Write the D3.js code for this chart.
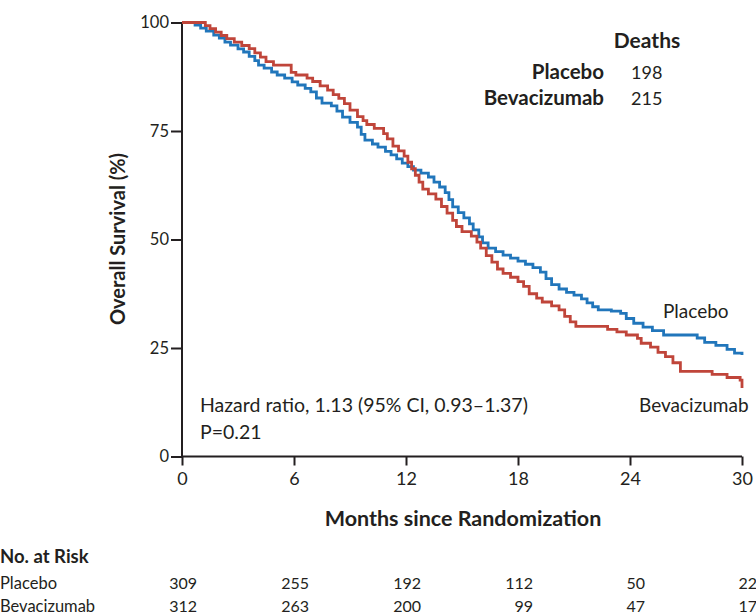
<!DOCTYPE html>
<html>
<head>
<meta charset="utf-8">
<script src="https://cdn.jsdelivr.net/npm/d3@7"></script>
<style>
  html, body { margin: 0; padding: 0; background: #fff; }
  svg { display: block; font-family: Lato, "Open Sans", sans-serif; }
</style>
</head>
<body>
<svg id="chart" width="756" height="616"></svg>
<script>
// ---------- DATA ----------
const placeboMonths = [0, 0.7, 1.0, 1.3, 1.7, 2.0, 2.3, 2.6, 3.0, 3.3, 3.6, 3.9, 4.1, 4.4, 4.8, 5.1, 5.5, 5.9, 6.2, 6.6, 6.9, 7.2, 7.5, 8.0, 8.3, 8.6, 9.0, 9.4, 9.6, 9.8, 10.2, 10.5, 10.9, 11.2, 11.5, 11.8, 12.1, 12.4, 12.8, 13.2, 13.5, 13.8, 14.1, 14.3, 14.5, 14.8, 15.1, 15.4, 15.6, 15.9, 16.1, 16.4, 16.8, 17.2, 17.6, 18.0, 18.4, 18.8, 19.2, 19.5, 19.8, 20.2, 20.6, 21.0, 21.4, 21.7, 22.0, 22.3, 23.0, 23.5, 23.8, 24.2, 24.7, 25.2, 25.8, 27.6, 28.0, 28.6, 29.2, 29.6, 30.0];
const placeboSurvival = [100, 99.4, 98.7, 98.0, 97.1, 96.4, 95.5, 94.8, 93.9, 93.2, 92.2, 91.2, 90.2, 89.5, 88.6, 87.9, 87.2, 86.3, 85.6, 84.8, 84.0, 82.6, 81.4, 80.8, 79.6, 78.2, 77.0, 75.9, 74.2, 72.9, 72.0, 71.3, 70.3, 69.5, 68.6, 67.6, 66.8, 66.0, 65.3, 64.4, 63.2, 62.1, 60.8, 59.2, 57.5, 56.2, 55.0, 53.6, 52.2, 50.6, 49.2, 48.0, 47.2, 46.4, 45.7, 45.0, 44.3, 43.5, 42.5, 41.0, 39.6, 38.6, 37.8, 37.2, 36.3, 35.4, 34.5, 33.8, 33.5, 33.0, 31.8, 30.7, 29.8, 29.0, 28.0, 27.3, 26.3, 25.6, 24.7, 23.8, 23.4];

const bevMonths = [0, 1.25, 1.5, 1.8, 2.1, 2.4, 2.8, 3.2, 3.6, 3.9, 4.2, 4.5, 4.9, 5.85, 6.1, 6.7, 7.0, 7.4, 7.8, 8.1, 8.4, 8.7, 9.0, 9.4, 9.7, 9.9, 10.3, 10.8, 11.0, 11.3, 11.6, 11.9, 12.1, 12.3, 12.5, 12.7, 12.9, 13.2, 13.6, 13.9, 14.2, 14.5, 14.7, 15.0, 15.5, 15.8, 16.0, 16.3, 16.6, 16.9, 17.2, 17.6, 18.0, 18.3, 18.6, 19.0, 19.3, 19.8, 20.2, 20.5, 20.8, 21.1, 22.8, 23.3, 23.8, 24.4, 24.6, 25.1, 25.5, 25.9, 26.3, 26.7, 28.4, 29.2, 29.9, 30.0];
const bevSurvival = [100, 99.3, 98.6, 97.8, 97.0, 96.3, 95.5, 94.7, 94.0, 93.0, 92.0, 91.0, 90.2, 88.5, 87.9, 87.2, 86.4, 85.4, 84.4, 83.4, 82.5, 81.3, 79.8, 78.3, 77.4, 76.5, 75.6, 74.4, 73.2, 71.5, 70.4, 69.2, 67.8, 66.3, 64.8, 63.2, 61.6, 60.5, 59.3, 57.6, 56.1, 54.4, 53.0, 51.8, 50.8, 49.4, 48.0, 46.3, 44.8, 43.2, 42.2, 41.3, 40.3, 39.2, 37.5, 36.5, 35.6, 34.7, 33.8, 32.3, 31.0, 30.0, 29.3, 28.7, 28.0, 27.2, 26.1, 25.2, 24.0, 23.0, 21.6, 19.6, 18.9, 18.2, 17.6, 15.8];

const xTicks = [0, 6, 12, 18, 24, 30];
const yTicks = [0, 25, 50, 75, 100];
const riskPlacebo = [309, 255, 192, 112, 50, 22];
const riskBev = [312, 263, 200, 99, 47, 17];
const deathsPlacebo = 198;
const deathsBev = 215;

// ---------- LAYOUT ----------
const colorPlacebo = "#2176bb";
const colorBev = "#c0453a";
const ink = "#231f20";

const svg = d3.select("#chart");
const x = d3.scaleLinear().domain([0, 30]).range([182, 742]);
const y = d3.scaleLinear().domain([0, 100]).range([456.5, 22.5]);

// axes
const yAxis = d3.axisLeft(y).tickValues(yTicks).tickSize(11).tickPadding(2);
const gy = svg.append("g").attr("transform", "translate(182,0)").call(yAxis);
const xAxis = d3.axisBottom(x).tickValues(xTicks).tickSize(9).tickPadding(7);
const gx = svg.append("g").attr("transform", "translate(0,456.5)").call(xAxis);

[gx, gy].forEach(g => {
  g.select(".domain").attr("stroke", ink).attr("stroke-width", 2);
  g.selectAll(".tick line").attr("stroke", ink).attr("stroke-width", 2);
  g.selectAll(".tick text").attr("fill", ink).style("font-family", "Lato, sans-serif");
});
gy.selectAll(".tick text").style("font-size", "16.5px");
gx.selectAll(".tick text").style("font-size", "18px");
gy.select(".domain").attr("d", `M0,${y(0)}V${y(100)}`);
gx.select(".domain").attr("d", `M${x(0)},0H${x(30)}`);

// curves
const line = d3.line().x(d => x(d[0])).y(d => y(d[1])).curve(d3.curveStepAfter);
const placeboPts = placeboMonths.map((m, i) => [m, placeboSurvival[i]]);
const bevPts = bevMonths.map((m, i) => [m, bevSurvival[i]]);

svg.append("path").datum(placeboPts).attr("d", line)
  .attr("fill", "none").attr("stroke", colorPlacebo).attr("stroke-width", 2.8);
svg.append("path").datum(bevPts).attr("d", line)
  .attr("fill", "none").attr("stroke", colorBev).attr("stroke-width", 2.8);

// axis titles
svg.append("text").attr("transform", "translate(125,239) rotate(-90)")
  .attr("text-anchor", "middle").attr("fill", ink)
  .style("font-size", "20px").style("font-weight", "bold")
  .text("Overall Survival (%)");

svg.append("text").attr("x", 463).attr("y", 526)
  .attr("text-anchor", "middle").attr("fill", ink)
  .style("font-size", "21.5px").style("font-weight", "bold")
  .text("Months since Randomization");

// legend (deaths)
svg.append("text").attr("x", 647).attr("y", 48).attr("text-anchor", "middle")
  .attr("fill", ink).style("font-size", "21px").style("font-weight", "bold").text("Deaths");
svg.append("text").attr("x", 604).attr("y", 79).attr("text-anchor", "end")
  .attr("fill", ink).style("font-size", "20.5px").style("font-weight", "bold").text("Placebo");
svg.append("text").attr("x", 604).attr("y", 105).attr("text-anchor", "end")
  .attr("fill", ink).style("font-size", "20.5px").style("font-weight", "bold").text("Bevacizumab");
svg.append("text").attr("x", 631).attr("y", 79).attr("fill", ink)
  .style("font-size", "18px").text(deathsPlacebo);
svg.append("text").attr("x", 631).attr("y", 105).attr("fill", ink)
  .style("font-size", "18px").text(deathsBev);

// curve labels
svg.append("text").attr("x", 663).attr("y", 318).attr("fill", ink)
  .style("font-size", "19px").text("Placebo");
svg.append("text").attr("x", 639).attr("y", 412).attr("fill", ink)
  .style("font-size", "19px").text("Bevacizumab");

// hazard ratio annotation
svg.append("text").attr("x", 200).attr("y", 412).attr("fill", ink)
  .style("font-size", "19.5px").text("Hazard ratio, 1.13 (95% CI, 0.93\u20131.37)");
svg.append("text").attr("x", 200).attr("y", 439).attr("fill", ink)
  .style("font-size", "19.5px").text("P=0.21");

// number at risk
svg.append("text").attr("x", 0).attr("y", 563).attr("fill", ink)
  .style("font-size", "18.5px").style("font-weight", "bold").text("No. at Risk");
svg.append("text").attr("x", 0).attr("y", 589).attr("fill", ink)
  .style("font-size", "16.5px").text("Placebo");
svg.append("text").attr("x", 0).attr("y", 612).attr("fill", ink)
  .style("font-size", "16.5px").text("Bevacizumab");

svg.append("g").selectAll("text").data(riskPlacebo).join("text")
  .attr("x", (d, i) => x(xTicks[i]) + 15).attr("y", 589)
  .attr("text-anchor", "end").attr("fill", ink).style("font-size", "16px")
  .text(d => d);
svg.append("g").selectAll("text").data(riskBev).join("text")
  .attr("x", (d, i) => x(xTicks[i]) + 15).attr("y", 612)
  .attr("text-anchor", "end").attr("fill", ink).style("font-size", "16px")
  .text(d => d);
</script>
</body>
</html>
